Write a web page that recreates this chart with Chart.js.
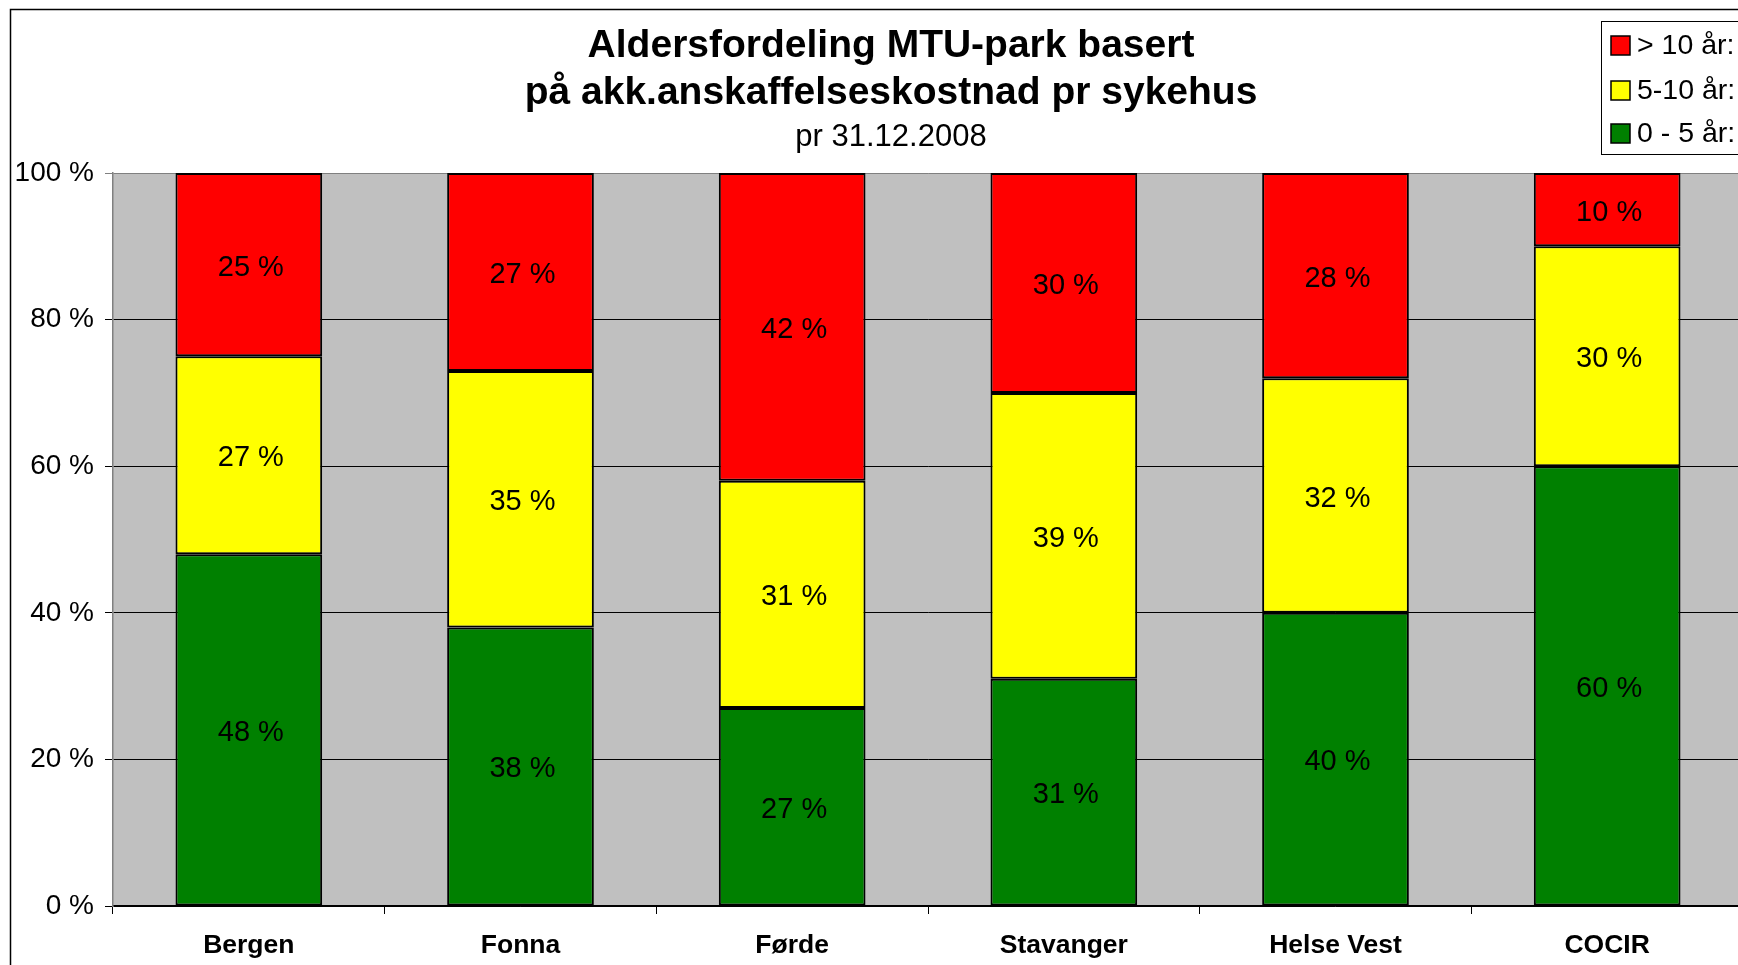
<!DOCTYPE html>
<html><head><meta charset="utf-8">
<script src="https://cdn.jsdelivr.net/npm/chart.js@4/dist/chart.umd.min.js"></script>
<style>
html,body{margin:0;padding:0;background:#fff;overflow:hidden;width:1738px;height:965px}
#wrap{position:absolute;left:0;top:0;width:1743px;height:965px}
canvas{display:block}
</style></head><body><div id="wrap"><canvas id="c" width="1743" height="965" style="width:1743px;height:965px"></canvas></div>
<script>
const categories = ['Bergen','Fonna','Førde','Stavanger','Helse Vest','COCIR'];
const seriesNames = ['0 - 5 år:','5-10 år:','> 10 år:'];
const age0to5 = [48,38,27,31,40,60];
const age5to10 = [27,35,31,39,32,30];
const ageOver10 = [25,27,42,30,28,10];
const yTicks = [0,20,40,60,80,100];
const titleLines = ['Aldersfordeling MTU-park basert','på akk.anskaffelseskostnad pr sykehus'];
const subtitleText = 'pr 31.12.2008';
const seriesColors = ['#008000','#FFFF00','#FF0000'];

const FONT = "'Liberation Sans', Arial, sans-serif";

const bgPlugin = {
  id: 'bg',
  beforeDraw(chart) {
    const ctx = chart.ctx, a = chart.chartArea;
    ctx.save();
    ctx.fillStyle = '#fff';
    ctx.fillRect(0, 0, chart.width, chart.height);
    ctx.strokeStyle = '#000';
    ctx.lineWidth = 1.5;
    ctx.strokeRect(10.5, 9.5, chart.width + 50, chart.height + 50);
    ctx.fillStyle = '#C0C0C0';
    ctx.fillRect(a.left, a.top, a.right - a.left, a.bottom - a.top);
    ctx.restore();
  }
};

const titlePlugin = {
  id: 'titleText',
  afterDraw(chart) {
    const ctx = chart.ctx;
    ctx.save();
    ctx.fillStyle = '#000';
    ctx.textAlign = 'center';
    ctx.textBaseline = 'middle';
    const cx = 891;
    ctx.font = 'bold 39px ' + FONT;
    ctx.fillText(titleLines[0], cx, 46.5);
    ctx.fillText(titleLines[1], cx, 93);
    ctx.font = '31px ' + FONT;
    ctx.fillText(subtitleText, cx, 137.5);
    ctx.restore();
  }
};

const valueLabels = {
  id: 'valueLabels',
  afterDatasetsDraw(chart) {
    const ctx = chart.ctx;
    ctx.save();
    ctx.font = '29px ' + FONT;
    ctx.fillStyle = '#000';
    ctx.textAlign = 'center';
    ctx.textBaseline = 'middle';
    chart.data.datasets.forEach((ds, i) => {
      chart.getDatasetMeta(i).data.forEach((bar, j) => {
        const y = (bar.y + bar.base) / 2;
        ctx.fillText(ds.data[j] + ' %', bar.x + 2, y + 3);
      });
    });
    ctx.restore();
  }
};

const boxLegend = {
  id: 'boxLegend',
  afterDraw(chart) {
    const ctx = chart.ctx;
    ctx.save();
    const x0 = 1601, y0 = 21, y1 = 154;
    ctx.fillStyle = '#fff';
    ctx.fillRect(x0, y0, chart.width, y1 - y0);
    ctx.strokeStyle = '#000';
    ctx.lineWidth = 1;
    ctx.strokeRect(x0 + 0.5, y0 + 0.5, chart.width, y1 - y0);
    const ys = [45, 90, 133];
    const order = chart.data.datasets.slice().reverse();
    ctx.font = '28.5px ' + FONT;
    ctx.textBaseline = 'middle';
    ctx.textAlign = 'left';
    order.forEach((ds, k) => {
      const cy = ys[k];
      ctx.fillStyle = ds.backgroundColor;
      ctx.fillRect(1611, cy - 9, 19, 19);
      ctx.lineWidth = 1.5;
      ctx.strokeStyle = '#000';
      ctx.strokeRect(1611, cy - 9, 19, 19);
      ctx.fillStyle = '#000';
      ctx.fillText(ds.label, 1637, cy + 1);
    });
    ctx.restore();
  }
};

const datasets = [age0to5, age5to10, ageOver10].map((d, i) => ({
  label: seriesNames[i],
  data: d,
  backgroundColor: seriesColors[i],
  borderColor: '#000',
  borderWidth: 2,
  borderSkipped: false,
  barPercentage: 0.54,
  categoryPercentage: 1.0
}));

new Chart(document.getElementById('c'), {
  type: 'bar',
  data: { labels: categories, datasets },
  plugins: [bgPlugin, valueLabels, boxLegend, titlePlugin],
  options: {
    responsive: false,
    animation: false,
    layout: { padding: { left: 0, right: 0, top: 173, bottom: 0 } },
    plugins: {
      legend: { display: false },
      tooltip: { enabled: false },
      title: { display: false },
      subtitle: { display: false }
    },
    scales: {
      x: {
        stacked: true,
        offset: true,
        grid: { display: true, drawOnChartArea: false, drawTicks: true, tickLength: 8, color: '#000', offset: true },
        border: { display: true, color: '#000', width: 1.5 },
        ticks: { color: '#000', font: { family: FONT, size: 26.5, weight: 'bold' }, padding: 16, maxRotation: 0, autoSkip: false },
        afterFit(s) { s.height = 59; }
      },
      y: {
        stacked: true,
        min: 0, max: 100,
        afterBuildTicks(s) { s.ticks = yTicks.map(v => ({ value: v })); },
        grid: {
          color: ctx => (ctx.tick && ctx.tick.value === 100) ? '#808080' : '#000',
          lineWidth: 1,
          tickLength: 8,
          drawTicks: true
        },
        border: { display: true, color: '#808080', width: 1.5 },
        ticks: { color: '#000', font: { family: FONT, size: 28 }, padding: 11, callback: v => v + ' %' },
        afterFit(s) { s.width = 113; }
      }
    }
  }
});
</script></body></html>
